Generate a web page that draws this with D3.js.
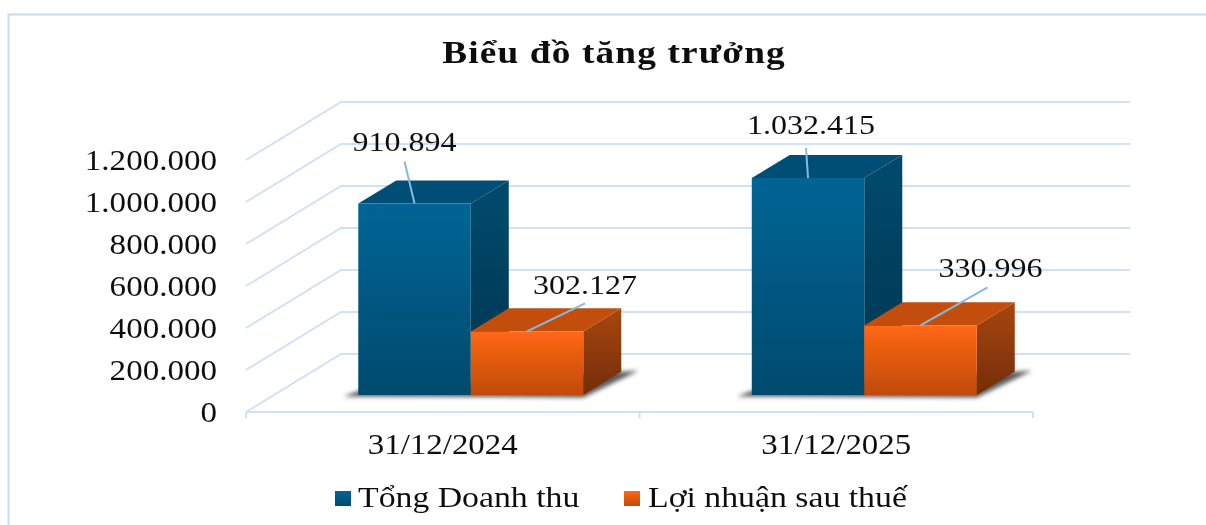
<!DOCTYPE html>
<html>
<head>
<meta charset="utf-8">
<script src="https://cdn.jsdelivr.net/npm/d3@7/dist/d3.min.js"></script>
<style>
html,body{margin:0;padding:0;background:#fff;overflow:hidden}
svg{display:block}
text{font-family:"Liberation Serif",serif;fill:#111}
</style>
</head>
<body>
<svg id="c" width="1206" height="525"></svg>
<script>
const title = "Biểu đồ tăng trưởng";
const categories = ["31/12/2024", "31/12/2025"];
const seriesNames = ["Tổng Doanh thu", "Lợi nhuận sau thuế"];
const revenue = [910894, 1032415];
const profit = [302127, 330996];
const yTicks = [0, 200000, 400000, 600000, 800000, 1000000, 1200000];

// layout
const floorY = 412, axisLeft = 246, axisRight = 1033;
const depthX = 95, depthY = 58, barD0 = 0.295, barD1 = 0.695;
const gridCol = "#cfe1f3", leaderCol = "#85b9e3";

const svg = d3.select("#c");
const defs = svg.append("defs");
function grad(id, a, b) {
  const g = defs.append("linearGradient").attr("id", id)
    .attr("x1", 0).attr("y1", 0).attr("x2", 0).attr("y2", 1);
  g.append("stop").attr("offset", 0).attr("stop-color", a);
  g.append("stop").attr("offset", 1).attr("stop-color", b);
}
grad("bf", "#046595", "#014a6e");
grad("bs", "#044b6d", "#01344e");
grad("of", "#ff6813", "#bf4a0b");
grad("os", "#a8470e", "#742d05");
defs.append("filter").attr("id", "sh").attr("x", "-20%").attr("y", "-100%").attr("width", "140%").attr("height", "300%")
  .append("feGaussianBlur").attr("stdDeviation", 2);
defs.append("filter").attr("id", "soft").attr("x", 0).attr("y", 0).attr("width", "100%").attr("height", "100%")
  .append("feGaussianBlur").attr("stdDeviation", 0.5);

const root = svg.append("g").attr("filter", "url(#soft)");
root.append("rect").attr("width", 1206).attr("height", 525).attr("fill", "#fff");

// frame
root.append("path").attr("d", "M8.5,525V14.5H1206").attr("fill", "none").attr("stroke", "#c8dcf0").attr("stroke-width", 2);

const yH = d3.scaleLinear().domain([0, 1200000]).range([0, 252]);
const x0 = d3.scaleBand().domain(categories).range([axisLeft, axisRight]);
const x1 = d3.scaleBand().domain(seriesNames).range([-112.5, 112.5]);
const loc = d3.formatLocale({decimal: ",", thousands: ".", grouping: [3], currency: ["", ""]});
const fmt = loc.format(",d");

function stretched(sel, x, y, s) {
  return sel.attr("transform", `translate(${x},${y}) scale(${s},1)`);
}

// walls
const grid = root.append("g").attr("fill", "none").attr("stroke", gridCol).attr("stroke-width", 1.8);
grid.selectAll("path").data(yTicks).join("path")
  .attr("d", d => {
    const h = yH(d);
    return d3.line()([[axisLeft, floorY - h], [axisLeft + depthX, floorY - depthY - h], [axisRight + depthX + 2, floorY - depthY - h]]);
  });

// category axis
root.append("path").attr("d", d3.line()([[axisLeft, floorY], [axisRight, floorY]]))
  .attr("stroke", gridCol).attr("stroke-width", 2);
const xTicks = [axisLeft, ...categories.map(c => x0(c) + x0.bandwidth())];
root.append("g").selectAll("line").data(xTicks).join("line")
  .attr("x1", d => d).attr("x2", d => d).attr("y1", floorY).attr("y2", floorY + 6)
  .attr("stroke", gridCol).attr("stroke-width", 2);
root.append("g").selectAll("text").data(categories).join("text")
  .attr("text-anchor", "middle").attr("font-size", 29)
  .each(function(d) { stretched(d3.select(this), x0(d) + x0.bandwidth() / 2, 454, 1.135).text(d); });

// value axis
const yScale = d3.scaleLinear().domain([0, 1200000]).range([floorY, floorY - 252]);
const yAxis = root.append("g").attr("transform", `translate(${axisLeft},0)`)
  .call(d3.axisLeft(yScale).tickValues(yTicks).tickFormat(fmt).tickSize(0));
yAxis.select(".domain").remove();
yAxis.selectAll("text").attr("font-size", 29).attr("font-family", '"Liberation Serif",serif')
  .attr("text-anchor", "end").attr("x", 0).attr("dy", "0.33em")
  .attr("transform", "translate(-29,0) scale(1.14,1)");

// bars
const series = [
  {name: seriesNames[0], values: revenue, front: "url(#bf)", side: "url(#bs)", top: "#024e74"},
  {name: seriesNames[1], values: profit, front: "url(#of)", side: "url(#os)", top: "#c24e0c"}
];
const P = (x, h, d) => [x + depthX * d, floorY - h - depthY * d];
const poly = pts => d3.line()(pts) + "Z";
const barsG = root.append("g");
const shadows = barsG.append("g");
const bodies = barsG.append("g");
categories.forEach((c, i) => {
  const base = x0(c) + x0.bandwidth() / 2;
  const xL = base + x1.range()[0], xR = base + x1.range()[1];
  const fl = P(xL, 0, barD0), fr = P(xR, 0, barD0), br = P(xR, 0, barD1);
  shadows.append("path").attr("filter", "url(#sh)").attr("fill", "#000").attr("fill-opacity", 0.65)
    .attr("d", poly([[fl[0] - 15, fl[1] + 1.5], [fr[0], fr[1] + 2.5], [br[0] + 17, br[1] - 1], br, [fl[0], fl[1] - 4]]));
  series.forEach(s => {
    const v = s.values[i], h = yH(v);
    const l = base + x1(s.name), r = l + x1.bandwidth();
    const g = bodies.append("g").datum(v);
    g.append("path").attr("fill", s.side).attr("d", poly([P(r, 0, barD0), P(r, 0, barD1), P(r, h, barD1), P(r, h, barD0)]));
    g.append("path").attr("fill", s.top).attr("d", poly([P(l, h, barD0), P(r, h, barD0), P(r, h, barD1), P(l, h, barD1)]));
    g.append("path").attr("fill", s.front).attr("d", poly([P(l, 0, barD0), P(r, 0, barD0), P(r, h, barD0), P(l, h, barD0)]));
  });
});

// data labels: leader end and text anchor relative to the top-front centre of each bar
const leaderEnds = {"0-0": [-10, -42], "0-1": [-2, -30], "1-0": [58, -28], "1-1": [67, -38]};
const textAnchors = {"0-0": [-10, -53], "0-1": [3, -44], "1-0": [58, -37], "1-1": [70, -48]};
const labels = root.append("g");
series.forEach((s, si) => {
  s.values.forEach((v, i) => {
    const c = categories[i];
    const l = x0(c) + x0.bandwidth() / 2 + x1(s.name);
    const [ax, ay] = P(l + x1.bandwidth() / 2, yH(v), barD0);
    const e = leaderEnds[si + "-" + i], a = textAnchors[si + "-" + i];
    labels.append("line").attr("x1", ax).attr("y1", ay).attr("x2", ax + e[0]).attr("y2", ay + e[1])
      .attr("stroke", leaderCol).attr("stroke-width", 2);
    const t = labels.append("text").attr("text-anchor", "middle").attr("font-size", 27).text(fmt(v));
    stretched(t, ax + a[0], ay + a[1], 1.185);
  });
});

// title
const tt = root.append("text").attr("text-anchor", "middle").attr("font-size", 32).attr("font-weight", "bold").attr("letter-spacing", 1).text(title);
stretched(tt, 614, 62.5, 1.165);

// legend
const legendItems = [
  {sw: 335, tx: 358, fill: "url(#bf)", name: seriesNames[0]},
  {sw: 624, tx: 648, fill: "url(#of)", name: seriesNames[1]}
];
const lg = root.append("g");
legendItems.forEach(it => {
  lg.append("rect").attr("x", it.sw).attr("y", 491).attr("width", 16).attr("height", 15).attr("fill", it.fill);
  stretched(lg.append("text").attr("font-size", 29).text(it.name), it.tx, 507, 1.165);
});
</script>
</body>
</html>
